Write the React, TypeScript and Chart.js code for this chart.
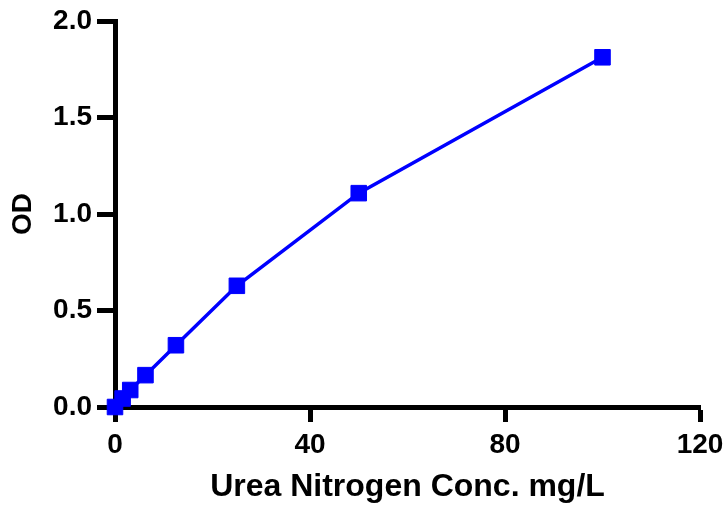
import React, { useEffect, useRef } from "react";
import { Chart, registerables } from "chart.js";

Chart.register(...registerables);

const concentrations = [0, 1.5625, 3.125, 6.25, 12.5, 25, 50, 100];
const odValues = [0.0, 0.044, 0.088, 0.165, 0.32, 0.628, 1.108, 1.812];
const xTitle = "Urea Nitrogen Conc. mg/L";
const yTitle = "OD";

const FONT = "'Liberation Sans', Arial, sans-serif";

export default function App() {
  const ref = useRef<HTMLCanvasElement | null>(null);
  useEffect(() => {
    if (!ref.current) return;
    const data = concentrations.map((x, i) => ({ x, y: odValues[i] }));
    const chart = new Chart(ref.current, {
      type: "line",
      data: {
        datasets: [
          {
            data,
            borderColor: "#0000FF",
            backgroundColor: "#0000FF",
            borderWidth: 3.5,
            pointStyle: "rect",
            pointRadius: 11,
            pointBorderWidth: 1,
            pointBackgroundColor: "#0000FF",
            pointBorderColor: "#0000FF",
            tension: 0,
            clip: false as any,
          },
        ],
      },
      options: {
        animation: false,
        responsive: false,
        maintainAspectRatio: false,
        layout: { padding: { top: 21, right: 25, left: 0, bottom: 0 } },
        plugins: { legend: { display: false }, tooltip: { enabled: false } },
        scales: {
          x: {
            type: "linear",
            min: 0,
            max: 120,
            afterFit: (s: any) => {
              s.height = 103;
              s.paddingLeft = 0;
              s.paddingRight = 0;
            },
            ticks: {
              stepSize: 40,
              color: "#000",
              padding: 6,
              font: { family: FONT, size: 28, weight: "bold" },
              maxRotation: 0,
            },
            grid: {
              drawOnChartArea: false,
              drawTicks: true,
              tickLength: 15,
              tickWidth: 5,
              tickColor: "#000",
            },
            border: { display: true, color: "#000", width: 5 },
            title: {
              display: true,
              text: xTitle,
              color: "#000",
              font: { family: FONT, size: 32, weight: "bold" },
              padding: { top: 0, bottom: 4 },
            },
          },
          y: {
            type: "linear",
            min: 0,
            max: 2,
            afterFit: (s: any) => {
              s.width = 115;
              s.paddingTop = 0;
              s.paddingBottom = 0;
            },
            ticks: {
              stepSize: 0.5,
              color: "#000",
              padding: 5,
              font: { family: FONT, size: 28, weight: "bold" },
              callback: (v: any) => Number(v).toFixed(1),
            },
            grid: {
              drawOnChartArea: false,
              drawTicks: true,
              tickLength: 18,
              tickWidth: 5,
              tickColor: "#000",
            },
            border: { display: true, color: "#000", width: 5 },
            title: {
              display: true,
              text: yTitle,
              color: "#000",
              font: { family: FONT, size: 28, weight: "bold" },
              padding: { top: 6, bottom: 0 },
            },
          },
        },
      },
    });
    return () => chart.destroy();
  }, []);
  return (
    <div style={{ position: "fixed", left: 0, top: 0, width: 725, height: 510, background: "#fff" }}>
      <canvas ref={ref} width={725} height={510} style={{ width: 725, height: 510, display: "block" }} />
    </div>
  );
}
